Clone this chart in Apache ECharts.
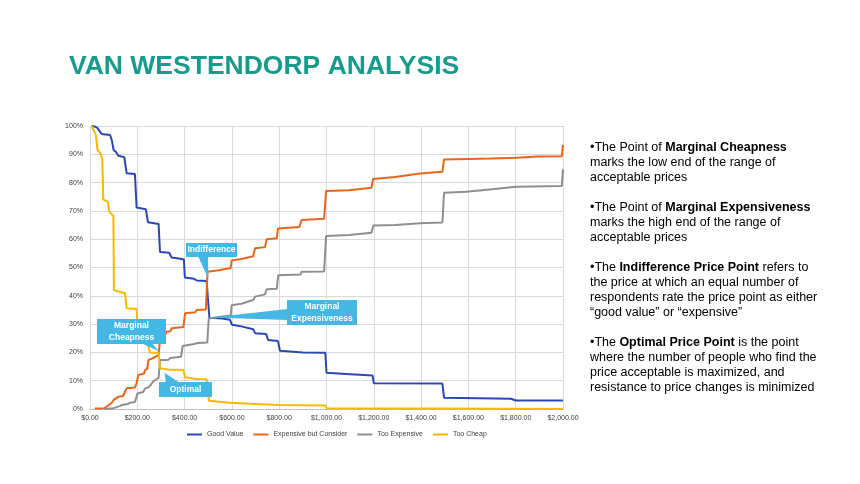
<!DOCTYPE html>
<html>
<head>
<meta charset="utf-8">
<script src="https://cdn.jsdelivr.net/npm/echarts@6/dist/echarts.min.js"></script>
<style>
html,body{margin:0;padding:0;background:#fff;}
#c{width:860px;height:484px;}
</style>
</head>
<body>
<div id="c"></div>
<script>
// ---- data (price in $, share of respondents in %) ----
var seriesNames = ['Good Value', 'Expensive but Consider', 'Too Expensive', 'Too Cheap'];

var goodValue = [
  [7,100],[20,99.8],[30,99.4],[49,97.2],[85,96.8],[92,95],[100,91.5],[110,90.8],[120,89.5],[145,89],[150,88.8],[155,83.3],[190,83],[197,71.2],[236,70.6],[245,66],[290,65.4],[296,55.5],[335,55.2],[345,53.5],[375,53.2],[397,52.8],[401,46.5],[440,46],[451,45.4],[493,45.2],[505,32.2],[560,32],[592,31.5],[600,29.8],[640,29.2],[648,28.5],[690,28.2],[698,26.8],[745,26.5],[753,24.4],[795,24],[803,20.6],[900,20],[995,19.9],[1000,12.8],[1100,12.3],[1195,11.8],[1200,9.1],[1490,9],[1497,4],[1780,3.6],[1800,3],[2000,3]
];

var expensiveConsider = [
  [20,0.2],[60,0.3],[70,0.8],[92,2.2],[100,3.2],[120,4.3],[140,4.6],[148,6.1],[155,7.3],[190,7.6],[197,9.1],[204,12],[228,12.5],[233,13.8],[242,14.2],[247,17.3],[262,17.8],[268,18.5],[290,19],[296,19.2],[298,26.1],[320,26.5],[324,27.3],[340,27.5],[345,28.5],[395,29],[402,33.8],[445,34.2],[451,35],[490,35.2],[497,48.5],[545,49],[550,49.5],[595,49.8],[599,52.5],[640,53],[648,53.5],[690,54],[698,56.8],[740,57.2],[747,60],[790,60.3],[795,63.8],[885,64.3],[895,66.8],[990,67.2],[998,77],[1095,77.3],[1099,77.7],[1190,78.2],[1197,81.3],[1290,82],[1297,82.7],[1395,83.2],[1402,83.6],[1490,83.8],[1497,88.2],[1698,88.5],[1804,88.8],[1895,89.2],[1995,89.3],[2000,93.3]
];

var tooExpensive = [
  [60,0],[100,0.3],[125,1],[134,1.4],[160,1.8],[169,2.2],[190,2.5],[197,4.3],[200,5.5],[225,6],[233,7.3],[245,7.6],[254,8.2],[268,9.8],[275,10.5],[290,11],[296,17.3],[330,17.3],[340,18],[385,18.5],[392,22.3],[440,23],[455,23.3],[496,23.5],[502,32],[550,32.6],[595,33],[599,36.7],[640,37.2],[648,37.9],[690,38.5],[698,39.7],[740,40.5],[747,42.3],[790,42.5],[796,47.3],[890,47.5],[895,48.5],[990,48.6],[998,61.1],[1095,61.5],[1099,62],[1190,62.3],[1198,64.8],[1290,65],[1297,65.3],[1395,65.6],[1402,65.8],[1490,65.9],[1497,76.4],[1590,76.8],[1593,77.4],[1690,77.6],[1698,78],[1800,78.5],[1804,78.8],[1995,78.8],[2000,84.7]
];

var tooCheap = [
  [7,100],[25,96.8],[32,91.5],[42,90.6],[52,88.6],[56,74],[75,73.3],[82,69.7],[99,68.2],[101,42],[120,41.5],[148,40.9],[155,35.6],[197,35.3],[204,26.1],[235,25.5],[240,24],[250,21],[254,20],[290,19.8],[296,14.4],[330,14],[395,13.8],[402,11.2],[451,10.6],[493,10.5],[503,2.9],[592,2.2],[700,1.8],[803,1.4],[995,1.2],[1000,0.3],[1497,0.2],[1500,0],[2000,0]
];

var xTicks = [0, 200, 400, 600, 800, 1000, 1200, 1400, 1600, 1800, 2000];
var yTicks = [0, 10, 20, 30, 40, 50, 60, 70, 80, 90, 100];

// callouts: label and the point (price, %) they point at
var calloutLabels = ['Indifference', 'Marginal\nExpensiveness', 'Marginal\nCheapness', 'Optimal'];
var calloutPoints = [[500, 46], [510, 32.3], [290, 20.5], [315, 12.8]];

var titleText = 'VAN WESTENDORP ANALYSIS';

// ---- styling ----
var colors = ['#2a48b3', '#e8661c', '#8f8f8f', '#f7b900'];
var calloutColor = '#45b7e4';

function money(v) {
  var s = v.toFixed(2);
  var parts = s.split('.');
  parts[0] = parts[0].replace(/\B(?=(\d{3})+(?!\d))/g, ',');
  return '$' + parts.join('.');
}

var chart = echarts.init(document.getElementById('c'), null, {renderer: 'canvas'});
var dataSets = [goodValue, expensiveConsider, tooExpensive, tooCheap];

var bodyFont = '"Liberation Sans", Arial, sans-serif';
var rich = {
  n: {fontSize: 12.5, fontFamily: bodyFont, color: '#2b2b2b', lineHeight: 15},
  b: {fontSize: 12.5, fontFamily: bodyFont, color: '#1a1a1a', fontWeight: 'bold', lineHeight: 15}
};
var sideText =
  '{n|•The Point of }{b|Marginal Cheapness}\n' +
  '{n|marks the low end of the range of}\n' +
  '{n|acceptable prices}\n' +
  '{n| }\n' +
  '{n|•The Point of }{b|Marginal Expensiveness}\n' +
  '{n|marks the high end of the range of}\n' +
  '{n|acceptable prices}\n' +
  '{n| }\n' +
  '{n|•The }{b|Indifference Price Point}{n| refers to}\n' +
  '{n|the price at which an equal number of}\n' +
  '{n|respondents rate the price point as either}\n' +
  '{n|“good value” or “expensive”}\n' +
  '{n| }\n' +
  '{n|•The }{b|Optimal Price Point}{n| is the point}\n' +
  '{n|where the number of people who find the}\n' +
  '{n|price acceptable is maximized, and}\n' +
  '{n|resistance to price changes is minimized}';

var option = {
  animation: false,
  backgroundColor: '#ffffff',
  color: colors,
  grid: {left: 90, right: 297, top: 126, bottom: 75, containLabel: false},
  legend: {
    left: 182, top: 426,
    itemWidth: 15, itemHeight: 2, itemGap: 10,
    icon: 'rect',
    textStyle: {fontSize: 7, color: '#404040', fontFamily: bodyFont},
    data: seriesNames
  },
  xAxis: {
    type: 'value', min: 0, max: 2000, interval: 200,
    axisLine: {show: true, lineStyle: {color: '#bfbfbf'}},
    axisTick: {show: false},
    axisLabel: {fontSize: 7, color: '#404040', margin: 6, fontFamily: bodyFont,
      formatter: function (v) { return money(v); }},
    splitLine: {show: true, lineStyle: {color: '#d9d9d9', width: 1}}
  },
  yAxis: {
    type: 'value', min: 0, max: 100, interval: 10,
    axisLine: {show: false},
    axisTick: {show: false},
    axisLabel: {fontSize: 7, color: '#404040', margin: 7, fontFamily: bodyFont,
      formatter: '{value}%'},
    splitLine: {show: true, lineStyle: {color: '#d9d9d9', width: 1}}
  },
  series: seriesNames.map(function (name, i) {
    return {
      name: name, type: 'line', data: dataSets[i],
      showSymbol: false, symbol: 'none',
      lineStyle: {width: 2, color: colors[i]},
      itemStyle: {color: colors[i]},
      z: 3
    };
  }),
  graphic: [
    {type: 'text', left: 69, top: 53, style: {text: titleText, fontSize: 26.5, fontWeight: 'bold',
      fontFamily: bodyFont, fill: '#179c8c'}},
    {type: 'text', left: 590, top: 141, style: {text: sideText, rich: rich}}
  ]
};
chart.setOption(option);

// callout boxes: boxes placed in pixels, tails point at data values
var boxes = [
  {x: 186, y: 243, w: 51, h: 14, tail: [[198, 256], [208, 256]]},
  {x: 287, y: 300, w: 70, h: 25, tail: [[288, 309], [288, 320]]},
  {x: 97, y: 319, w: 69, h: 25, tail: [[141, 343], [152, 343]]},
  {x: 159, y: 382, w: 53, h: 15, tail: [[166, 383], [180, 383]]}
];
var g = [];
calloutLabels.forEach(function (lab, i) {
  var tip = chart.convertToPixel({gridIndex: 0}, calloutPoints[i]);
  var b = boxes[i];
  g.push({type: 'polygon', z: 10, shape: {points: [b.tail[0], b.tail[1], tip]}, style: {fill: calloutColor}});
  g.push({type: 'rect', z: 10, shape: {x: b.x, y: b.y, width: b.w, height: b.h}, style: {fill: calloutColor}});
  g.push({type: 'text', z: 11, x: b.x + b.w / 2, y: b.y + b.h / 2,
    style: {text: lab, fill: '#ffffff', fontSize: 8.5, fontWeight: 'bold', fontFamily: bodyFont,
      align: 'center', verticalAlign: 'middle', lineHeight: 12}});
});
chart.setOption({graphic: option.graphic.concat(g)});
</script>
</body>
</html>
